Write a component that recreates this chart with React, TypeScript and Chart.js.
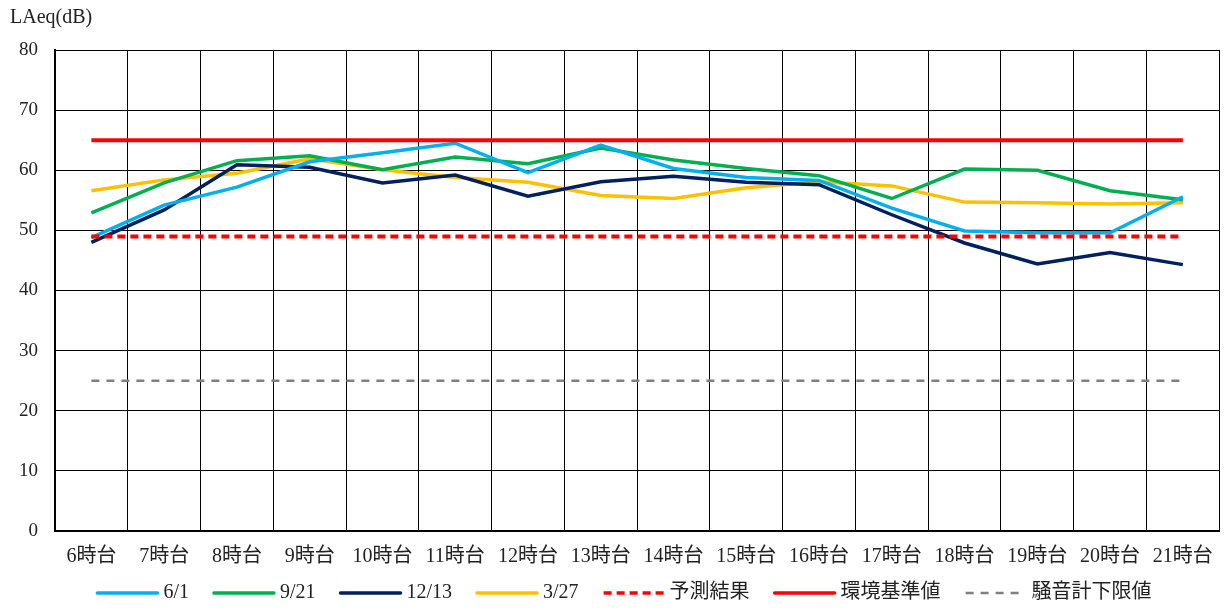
import React, { useEffect, useRef } from "react";
import { Chart, registerables } from "chart.js";
Chart.register(...registerables);

const categories = ["6時台", "7時台", "8時台", "9時台", "10時台", "11時台", "12時台", "13時台", "14時台", "15時台", "16時台", "17時台", "18時台", "19時台", "20時台", "21時台"];
const s0601 = [48.8, 54.2, 57.2, 61.4, 62.9, 64.5, 59.6, 64.2, 60.3, 58.8, 58.3, 53.7, 49.9, 49.6, 49.6, 55.6];
const s0921 = [52.9, 57.9, 61.6, 62.4, 60.1, 62.2, 61.1, 63.7, 61.7, 60.3, 59.1, 55.3, 60.2, 60.0, 56.6, 55.1];
const s1213 = [48.0, 53.4, 60.9, 60.5, 57.9, 59.2, 55.7, 58.1, 59.0, 58.0, 57.6, 52.6, 47.9, 44.4, 46.3, 44.3];
const s0327 = [56.6, 58.4, 59.5, 61.9, 60.1, 58.8, 58.0, 55.8, 55.3, 57.1, 58.1, 57.4, 54.7, 54.6, 54.4, 54.6];
const predicted = categories.map(() => 49);
const envStandard = categories.map(() => 65);
const meterLower = categories.map(() => 25);
const yTicks = [0, 10, 20, 30, 40, 50, 60, 70, 80];

const FONT = "'Liberation Serif', 'Noto Sans CJK JP', serif";

const titlePlugin = {
  id: "yTitle",
  afterDraw(chart: any) {
    const ctx = chart.ctx;
    ctx.save();
    ctx.font = `20px ${FONT}`;
    ctx.fillStyle = "#222";
    ctx.textAlign = "left";
    ctx.textBaseline = "middle";
    ctx.fillText("LAeq(dB)", 10, 18);
    ctx.restore();
  },
};

const legendPlugin = {
  id: "customLegend",
  afterDraw(chart: any) {
    const ctx = chart.ctx;
    const ds = chart.data.datasets;
    const lineW = 62, textGap = 5, itemGap = 24, cy = 593;
    ctx.save();
    ctx.font = `20px ${FONT}`;
    const widths = ds.map((d: any) => lineW + textGap + ctx.measureText(d.label).width);
    const total = widths.reduce((a: number, b: number) => a + b, 0) + itemGap * (ds.length - 1);
    let x = 624 - total / 2;
    ds.forEach((d: any, i: number) => {
      ctx.beginPath();
      ctx.strokeStyle = d.borderColor;
      ctx.lineWidth = Math.min(d.borderWidth, 3.5);
      ctx.lineCap = d.borderDash ? "butt" : "round";
      ctx.setLineDash(d.borderDash || []);
      ctx.moveTo(x + 1, cy);
      ctx.lineTo(x + lineW - 1, cy);
      ctx.stroke();
      ctx.setLineDash([]);
      ctx.fillStyle = "#222";
      ctx.textAlign = "left";
      ctx.textBaseline = "middle";
      ctx.fillText(d.label, x + lineW + textGap, cy);
      x += widths[i] + itemGap;
    });
    ctx.restore();
  },
};

export default function App() {
  const ref = useRef<HTMLCanvasElement>(null);
  useEffect(() => {
    document.body.style.margin = "0";
    const mk = (label: string, data: number[], color: string, width: number, dash?: number[], order = 1) => ({
      label,
      data,
      borderColor: color,
      backgroundColor: color,
      borderWidth: width,
      borderDash: dash,
      pointRadius: 0,
      tension: 0,
      fill: false,
      order,
    });
    const chart = new Chart(ref.current!, {
      type: "line",
      data: {
        labels: categories,
        datasets: [
          mk("6/1", s0601, "#00B0F0", 3.5),
          mk("9/21", s0921, "#00B050", 3.5),
          mk("12/13", s1213, "#002060", 3.5),
          mk("3/27", s0327, "#FFC000", 3.5),
          mk("予測結果", predicted, "#FF0000", 4, [8, 5], 0),
          mk("環境基準値", envStandard, "#FF0000", 4, undefined, 0),
          mk("騒音計下限値", meterLower, "#808080", 2.5, [8, 7], 0),
        ] as any,
      },
      options: {
        animation: false,
        responsive: false,
        maintainAspectRatio: false,
        layout: { padding: { top: 50, right: 5, left: 0, bottom: 0 } },
        plugins: { legend: { display: false }, tooltip: { enabled: false } },
        scales: {
          x: {
            offset: true,
            grid: { color: "#000", lineWidth: 1, drawTicks: false, offset: true },
            border: { color: "#000", width: 2 },
            ticks: { color: "#222", font: { family: FONT, size: 20 }, padding: 14, maxRotation: 0, autoSkip: false },
            afterFit: (s: any) => { s.height = 79; },
          },
          y: {
            min: 0,
            max: 80,
            afterBuildTicks: (s: any) => { s.ticks = yTicks.map((v) => ({ value: v })); },
            grid: { color: "#000", lineWidth: 1, drawTicks: false },
            border: { color: "#000", width: 2 },
            ticks: { color: "#222", font: { family: FONT, size: 19 }, padding: 17 },
            afterFit: (s: any) => { s.width = 55; },
          },
        },
      },
      plugins: [titlePlugin, legendPlugin],
    });
    return () => chart.destroy();
  }, []);
  return (
    <div style={{ width: 1227, height: 610 }}>
      <canvas ref={ref} width={1227} height={610} style={{ display: "block" }} />
    </div>
  );
}
